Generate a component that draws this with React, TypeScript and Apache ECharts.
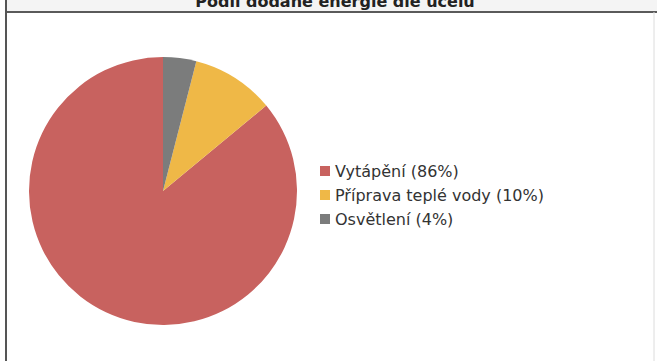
import React, { useEffect, useRef } from "react";
import * as echarts from "echarts";

const titleText = "Podíl dodané energie dle účelu";
const categories = ["Vytápění", "Příprava teplé vody", "Osvětlení"];
const values = [86, 10, 4];
const colors = ["#c8625f", "#efb847", "#7b7c7c"];

export default function App() {
  const ref = useRef<HTMLDivElement>(null);
  useEffect(() => {
    if (!ref.current) return;
    const chart = echarts.init(ref.current, undefined, { renderer: "svg" });
    const data = categories.map((name, i) => ({ name, value: values[i], itemStyle: { color: colors[i] } }));
    chart.setOption({
      animation: false,
      backgroundColor: "#ffffff",
      graphic: [
        { type: "rect", shape: { x: 6, y: 0, width: 651, height: 12 }, style: { fill: "#f4f4f4" }, z: 0 },
        { type: "text", x: 335, y: -7, style: { text: titleText, fill: "#222", font: "bold 16px 'DejaVu Sans'", textAlign: "center", textVerticalAlign: "top" }, z: 1 },
        { type: "line", shape: { x1: 6, y1: 12, x2: 657, y2: 12 }, style: { stroke: "#5a5a5a", lineWidth: 2 }, z: 2 },
        { type: "line", shape: { x1: 6, y1: 0, x2: 6, y2: 361 }, style: { stroke: "#555", lineWidth: 2 }, z: 2 },
        { type: "line", shape: { x1: 654, y1: 12, x2: 654, y2: 361 }, style: { stroke: "#dcdcdc", lineWidth: 1 }, z: 2 },
      ],
      legend: {
        orient: "vertical",
        left: 315,
        top: 158,
        icon: "rect",
        itemWidth: 10,
        itemHeight: 10,
        itemGap: 8,
        itemTextGap: 11,
        data: categories,
        formatter: (name: string) => `${name} (${values[categories.indexOf(name)]}%)`,
        textStyle: { fontSize: 16, fontFamily: "DejaVu Sans", color: "#333" },
        selectedMode: false,
      },
      series: [
        {
          type: "pie",
          center: [163, 191],
          radius: 134,
          startAngle: 90,
          clockwise: false,
          label: { show: false },
          labelLine: { show: false },
          emphasis: { disabled: true },
          data,
        },
      ],
    });
    return () => chart.dispose();
  }, []);
  return <div ref={ref} style={{ position: "fixed", left: 0, top: 0, width: 657, height: 361 }} />;
}
